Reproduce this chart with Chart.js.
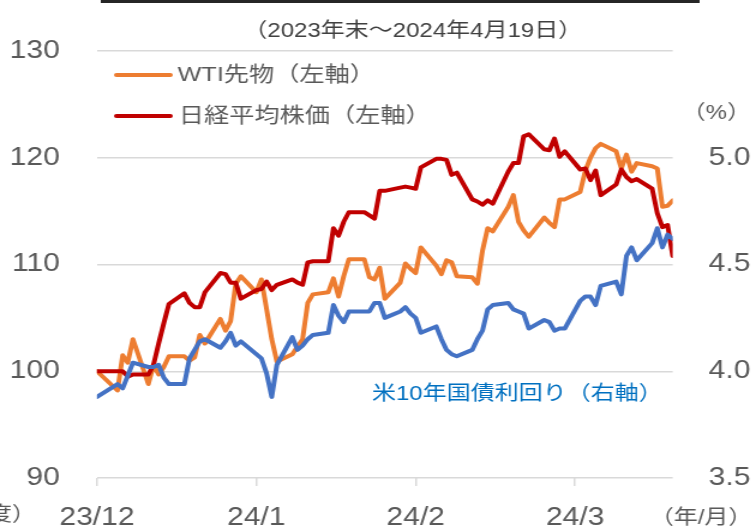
<!DOCTYPE html>
<html>
<head>
<meta charset="utf-8">
<script src="https://cdn.jsdelivr.net/npm/chart.js@4.4.1/dist/chart.umd.min.js"></script>
<style>
  html, body { margin: 0; padding: 0; background: #fff; overflow: hidden; }
  /* the reference is stretched sideways, so the canvas is too */
  #chart { display: block; transform: scaleX(1.2); transform-origin: 0 0; }
</style>
</head>
<body>
<canvas id="chart" width="627" height="531"></canvas>
<script>
const dates = [
    '2023-12-29',
    '2024-01-01', '2024-01-02', '2024-01-03', '2024-01-04', '2024-01-05',
    '2024-01-08', '2024-01-09', '2024-01-10', '2024-01-11', '2024-01-12',
    '2024-01-15', '2024-01-16', '2024-01-17', '2024-01-18', '2024-01-19',
    '2024-01-22', '2024-01-23', '2024-01-24', '2024-01-25', '2024-01-26',
    '2024-01-29', '2024-01-30', '2024-01-31', '2024-02-01', '2024-02-02',
    '2024-02-05', '2024-02-06', '2024-02-07', '2024-02-08', '2024-02-09',
    '2024-02-12', '2024-02-13', '2024-02-14', '2024-02-15', '2024-02-16',
    '2024-02-19', '2024-02-20', '2024-02-21', '2024-02-22', '2024-02-23',
    '2024-02-26', '2024-02-27', '2024-02-28', '2024-02-29', '2024-03-01',
    '2024-03-04', '2024-03-05', '2024-03-06', '2024-03-07', '2024-03-08',
    '2024-03-11', '2024-03-12', '2024-03-13', '2024-03-14', '2024-03-15',
    '2024-03-18', '2024-03-19', '2024-03-20', '2024-03-21', '2024-03-22',
    '2024-03-25', '2024-03-26', '2024-03-27', '2024-03-28', '2024-03-29',
    '2024-04-01', '2024-04-02', '2024-04-03', '2024-04-04', '2024-04-05',
    '2024-04-08', '2024-04-09', '2024-04-10', '2024-04-11', '2024-04-12',
    '2024-04-15', '2024-04-16', '2024-04-17', '2024-04-18', '2024-04-19'
];

// WTI先物 (2023年末=100)
const wti = [
    100.0,
    null, 98.2, 101.5, 100.8, 103.0,
    98.8, 100.6, 99.7, 100.4, 101.4,
    101.4, 101.0, 101.3, 103.4, 102.6,
    104.9, 103.8, 104.7, 108.2, 108.9,
    107.4, 108.6, 105.8, 103.0, 100.9,
    101.6, 102.3, 103.0, 106.4, 107.2,
    107.4, 108.7, 107.0, 108.9, 110.5,
    110.5, 108.8, 108.6, 109.7, 106.8,
    108.3, 110.1, 109.6, 109.2, 111.6,
    109.9, 109.1, 110.4, 110.2, 108.9,
    108.8, 108.2, 111.3, 113.4, 113.1,
    115.4, 116.5, 114.0, 113.2, 112.6,
    114.4, 113.9, 113.5, 116.1, 116.1,
    116.8, 118.8, 120.0, 120.9, 121.3,
    120.6, 119.0, 120.3, 118.7, 119.5,
    119.2, 119.0, 115.4, 115.5, 116.0
];

// 日経平均株価 (2023年末=100)
const nikkei = [
    100.0,
    100.0, 100.0, 100.0, 99.5, 99.7,
    99.7, 100.6, 102.6, 104.5, 106.3,
    107.3, 106.4, 106.0, 106.0, 107.4,
    109.2, 109.1, 108.3, 108.3, 106.8,
    107.6, 107.7, 108.4, 107.6, 108.1,
    108.6, 108.3, 108.1, 110.2, 110.3,
    110.3, 113.4, 112.7, 114.0, 114.9,
    114.9, 114.6, 114.3, 116.9, 116.9,
    117.2, 117.3, 117.2, 117.1, 119.1,
    119.9, 119.9, 119.8, 118.4, 118.6,
    116.1, 115.9, 115.6, 116.0, 115.7,
    118.7, 119.5, 119.5, 122.0, 122.2,
    120.8, 120.7, 121.8, 120.1, 120.6,
    118.9, 119.0, 117.9, 118.8, 116.5,
    117.5, 118.9, 118.2, 117.8, 118.0,
    117.1, 114.8, 113.5, 113.7, 110.8
];

// 米10年国債利回り (%)
const ust10y = [
    3.88,
    null, 3.94, 3.92, 3.98, 4.04,
    4.02, 4.02, 4.03, 3.97, 3.94,
    3.94, 4.06, 4.10, 4.14, 4.15,
    4.11, 4.14, 4.18, 4.12, 4.14,
    4.08, 4.06, 3.99, 3.88, 4.03,
    4.16, 4.10, 4.12, 4.15, 4.17,
    4.18, 4.31, 4.26, 4.23, 4.28,
    4.28, 4.28, 4.32, 4.32, 4.25,
    4.28, 4.30, 4.27, 4.25, 4.18,
    4.21, 4.15, 4.10, 4.08, 4.07,
    4.10, 4.15, 4.19, 4.29, 4.31,
    4.32, 4.29, 4.28, 4.27, 4.20,
    4.24, 4.23, 4.19, 4.20, 4.20,
    4.33, 4.35, 4.35, 4.31, 4.40,
    4.42, 4.36, 4.54, 4.58, 4.52,
    4.60, 4.67, 4.58, 4.64, 4.62
];

const tickDates = ['2023-12-29', '2024-01-29', '2024-02-29', '2024-03-31'];
const tickLabels = ['23/12', '24/1', '24/2', '24/3'];
const lastDate = '2024-04-19';

const FONT = '"Liberation Sans", Arial, "Noto Sans CJK JP", sans-serif';
const GRID = '#D9D9D9';
const TEXT = '#595959';

function dayOf(dateStr) {
    return (Date.parse(dateStr) - Date.parse(dates[0])) / 86400000;
}

function toPoints(values) {
    return dates.map((d, i) => ({ x: dayOf(d), y: values[i] }));
}

function lineSet(label, values, color, axis) {
    return {
        label: label,
        data: toPoints(values),
        yAxisID: axis,
        borderColor: color,
        backgroundColor: color,
        borderWidth: 4,
        borderJoinStyle: 'round',
        borderCapStyle: 'round',
        pointRadius: 0,
        tension: 0,
        spanGaps: true,
        fill: false
    };
}

// titles, legend and notes drawn on top of the chart
const textPlugin = {
    id: 'texts',
    afterDraw(chart) {
        const ctx = chart.ctx;
        ctx.save();

        ctx.fillStyle = '#262626';
        ctx.fillRect(84, 0, 499, 3);

        ctx.textBaseline = 'middle';
        ctx.fillStyle = '#404040';
        ctx.font = '20px ' + FONT;
        ctx.textAlign = 'center';
        ctx.fillText('（2023年末～2024年4月19日）', 344, 31);

        ctx.lineWidth = 4;
        ctx.lineCap = 'round';
        ctx.strokeStyle = '#ED7D31';
        ctx.beginPath();
        ctx.moveTo(97, 75);
        ctx.lineTo(142, 75);
        ctx.stroke();
        ctx.strokeStyle = '#C00000';
        ctx.beginPath();
        ctx.moveTo(97, 116);
        ctx.lineTo(142, 116);
        ctx.stroke();

        ctx.textAlign = 'left';
        ctx.fillStyle = TEXT;
        ctx.font = '21px ' + FONT;
        ctx.fillText('WTI先物（左軸）', 148, 75);
        ctx.fillText('日経平均株価（左軸）', 149, 116);

        ctx.fillStyle = '#0070C0';
        ctx.font = '20px ' + FONT;
        ctx.fillText('米10年国債利回り（右軸）', 310, 394);

        ctx.fillStyle = TEXT;
        ctx.textAlign = 'center';
        ctx.fillText('（%）', 597, 113);
        ctx.textAlign = 'right';
        ctx.fillText('（年/月）', 627, 518);
        ctx.textAlign = 'left';
        ctx.fillText('度）', -10, 515);

        ctx.restore();
    }
};

new Chart(document.getElementById('chart'), {
    type: 'line',
    data: {
        datasets: [
            lineSet('米10年国債利回り（右軸）', ust10y, '#4472C4', 'yRight'),
            lineSet('日経平均株価（左軸）', nikkei, '#C00000', 'yLeft'),
            lineSet('WTI先物（左軸）', wti, '#ED7D31', 'yLeft')
        ]
    },
    options: {
        responsive: false,
        animation: false,
        devicePixelRatio: 1,
        layout: { padding: { top: 51, left: 0, right: 0, bottom: 0 } },
        plugins: {
            legend: { display: false },
            tooltip: { enabled: false }
        },
        scales: {
            x: {
                type: 'linear',
                min: 0,
                max: dayOf(lastDate),
                afterBuildTicks: (scale) => {
                    scale.ticks = tickDates.map(d => ({ value: dayOf(d) }));
                },
                afterFit: (scale) => { scale.height = 53; },
                border: { display: false },
                grid: {
                    drawOnChartArea: false,
                    drawTicks: true,
                    tickLength: 8,
                    tickColor: GRID,
                    lineWidth: 1.5
                },
                ticks: {
                    autoSkip: false,
                    maxRotation: 0,
                    padding: 17,
                    color: TEXT,
                    font: { family: FONT, size: 25 },
                    callback: (value) => {
                        const i = tickDates.findIndex(d => dayOf(d) === value);
                        return i >= 0 ? tickLabels[i] : '';
                    }
                }
            },
            yLeft: {
                type: 'linear',
                position: 'left',
                min: 90,
                max: 130,
                afterFit: (scale) => { scale.width = 80.8; },
                border: { display: false },
                grid: { color: GRID, lineWidth: 1.5, drawTicks: false },
                ticks: {
                    stepSize: 10,
                    padding: 31,
                    color: TEXT,
                    font: { family: FONT, size: 25 }
                }
            },
            yRight: {
                type: 'linear',
                position: 'right',
                min: 3.5,
                max: 5.5,
                afterFit: (scale) => { scale.width = 66.4; },
                border: { display: false },
                grid: { display: false, drawOnChartArea: false },
                ticks: {
                    stepSize: 0.5,
                    padding: 22,
                    color: TEXT,
                    font: { family: FONT, size: 25 },
                    callback: (value) => value > 5.01 ? '' : value.toFixed(1)
                }
            }
        }
    },
    plugins: [textPlugin]
});
</script>
</body>
</html>
